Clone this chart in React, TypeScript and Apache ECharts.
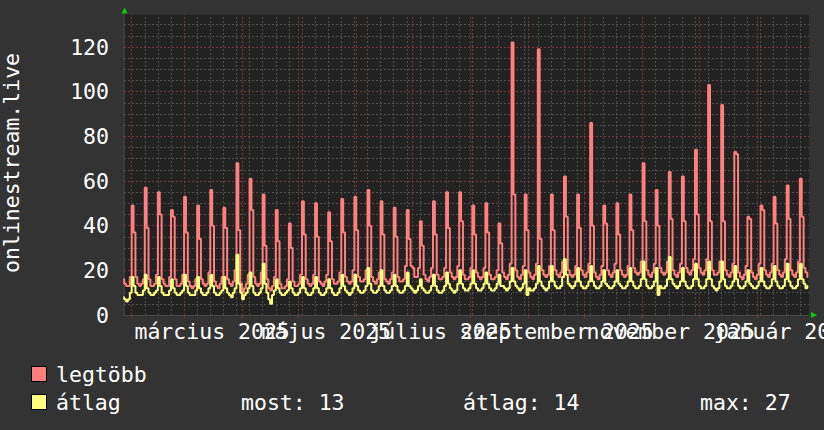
import React, { useEffect, useRef } from "react";
import * as echarts from "echarts";

// ---------- data (daily samples, first sample = 2025-01-27) ----------
const FIRST_SAMPLE = "2025-01-27";

const legtobb = [
  16, 14, 13, 13, 17, 49, 37,
  17, 14, 13, 14, 16, 57, 39,
  16, 13, 13, 14, 18, 55, 45,
  16, 14, 13, 13, 17, 47, 44,
  16, 13, 13, 14, 18, 53, 37,
  15, 13, 12, 13, 16, 49, 34,
  16, 14, 13, 14, 19, 56, 40,
  15, 13, 12, 14, 17, 48, 39,
  16, 14, 13, 15, 20, 68, 38,
  14, 10, 12, 14, 18, 61, 47,
  17, 14, 13, 14, 19, 54, 31,
  16, 12, 11, 13, 17, 47, 33,
  14, 12, 12, 13, 16, 41, 30,
  15, 13, 13, 14, 18, 51, 36,
  16, 14, 13, 14, 18, 50, 35,
  15, 14, 13, 15, 18, 46, 33,
  16, 14, 14, 15, 19, 52, 37,
  17, 15, 14, 15, 20, 53, 38,
  17, 15, 15, 16, 20, 56, 40,
  17, 15, 14, 16, 19, 51, 36,
  16, 15, 14, 16, 19, 48, 35,
  17, 15, 15, 16, 22, 47, 34,
  22, 21, 17, 17, 21, 42, 31,
  18, 16, 15, 17, 21, 51, 36,
  18, 16, 16, 17, 21, 55, 39,
  19, 17, 16, 17, 22, 55, 42,
  18, 16, 16, 17, 21, 49, 36,
  19, 17, 16, 17, 21, 50, 37,
  18, 16, 16, 17, 20, 41, 32,
  19, 17, 16, 18, 23, 122, 54,
  20, 17, 16, 18, 22, 54, 38,
  19, 17, 16, 18, 23, 119, 34,
  20, 18, 17, 18, 22, 54, 38,
  20, 18, 17, 19, 24, 62, 44,
  20, 18, 17, 18, 22, 54, 39,
  20, 18, 17, 19, 23, 86, 40,
  19, 17, 16, 18, 22, 49, 41,
  20, 18, 17, 19, 23, 50, 36,
  20, 18, 17, 18, 22, 54, 38,
  21, 19, 18, 19, 24, 68, 42,
  20, 18, 17, 19, 23, 56, 40,
  21, 19, 18, 19, 24, 64, 43,
  20, 18, 17, 19, 23, 62, 42,
  21, 19, 18, 20, 25, 74, 45,
  21, 19, 18, 20, 25, 103, 42,
  20, 18, 18, 19, 24, 94, 42,
  20, 18, 17, 19, 23, 73, 72,
  19, 17, 16, 18, 22, 44, 43,
  19, 17, 16, 18, 23, 49, 47,
  20, 18, 17, 19, 23, 53, 41,
  20, 18, 17, 19, 25, 58, 43,
  20, 18, 17, 19, 24, 61, 44,
  21, 19, 17,
];

const atlag = [
  8, 7, 6, 7, 10, 17, 13,
  10, 9, 9, 9, 11, 18, 12,
  10, 9, 9, 10, 11, 17, 13,
  10, 9, 9, 9, 11, 16, 12,
  10, 9, 9, 10, 11, 18, 13,
  10, 9, 9, 9, 11, 17, 12,
  10, 9, 9, 10, 12, 18, 13,
  10, 9, 9, 10, 11, 17, 12,
  10, 9, 8, 10, 12, 27, 14,
  10, 7, 9, 10, 12, 19, 13,
  10, 9, 9, 10, 12, 23, 14,
  10, 7, 5, 9, 11, 16, 12,
  10, 9, 9, 10, 11, 15, 12,
  10, 9, 9, 10, 12, 17, 12,
  10, 9, 9, 10, 12, 17, 12,
  10, 9, 9, 10, 12, 16, 12,
  10, 9, 9, 10, 12, 18, 13,
  11, 10, 9, 10, 12, 18, 13,
  11, 10, 10, 11, 13, 21, 14,
  11, 10, 10, 11, 13, 20, 13,
  11, 10, 10, 11, 13, 18, 13,
  11, 10, 10, 11, 13, 19, 13,
  12, 11, 10, 11, 13, 16, 12,
  11, 10, 10, 11, 13, 18, 13,
  11, 10, 10, 11, 13, 19, 14,
  12, 11, 10, 11, 14, 20, 14,
  12, 11, 11, 12, 14, 20, 14,
  12, 11, 11, 12, 14, 19, 14,
  12, 11, 11, 12, 14, 18, 13,
  13, 12, 11, 12, 15, 21, 15,
  13, 12, 11, 12, 14, 20, 9,
  12, 11, 11, 12, 14, 22, 15,
  13, 12, 11, 12, 15, 22, 15,
  13, 12, 12, 13, 17, 25, 18,
  14, 13, 12, 13, 15, 21, 15,
  13, 12, 12, 13, 15, 22, 15,
  13, 12, 12, 13, 15, 20, 14,
  13, 12, 12, 13, 15, 20, 14,
  13, 12, 12, 13, 15, 21, 15,
  13, 12, 12, 13, 16, 24, 16,
  13, 12, 12, 13, 15, 21, 9,
  13, 12, 12, 13, 16, 26, 16,
  14, 13, 12, 13, 15, 21, 15,
  13, 12, 12, 13, 16, 23, 16,
  13, 12, 12, 13, 16, 24, 16,
  13, 12, 11, 12, 15, 24, 16,
  13, 12, 12, 13, 15, 22, 16,
  13, 12, 12, 13, 15, 20, 14,
  13, 12, 12, 13, 15, 21, 15,
  13, 12, 12, 13, 16, 22, 15,
  13, 12, 12, 13, 16, 23, 15,
  13, 12, 12, 13, 16, 23, 16,
  14, 12, 13,
];

const seriesNames = ["legtöbb", "átlag"];
const axisTitle = "onlinestream.live";

const monthStarts = [
  "2025-02-01", "2025-03-01", "2025-04-01", "2025-05-01", "2025-06-01", "2025-07-01",
  "2025-08-01", "2025-09-01", "2025-10-01", "2025-11-01", "2025-12-01", "2026-01-01",
];
const xLabelDates = ["2025-03-16", "2025-05-16", "2025-07-16", "2025-09-16", "2025-11-16", "2026-01-16"];
const xLabels = ["március 2025", "május 2025", "július 2025", "szeptember 2025", "november 2025", "január 2026"];

const yMax = 134.5;
const yMajor = 20;
const yMinor = 5;

const statNow = "most: 13";
const statAvg = "átlag: 14";
const statMax = "max: 27";

// ---------- styling ----------
const FONT = '"DejaVu Sans Mono", monospace';
const FS = 21.5;
const PINK = "#ff7f7f";
const YELLOW = "#ffff7f";
const GREY = "#4e4e4e";
const RED = "#7a3434";
const DAY = 86400000;

function ts(s: string, hour = 0, minute = 0): number {
  const [y, m, d] = s.split("-").map(Number);
  return new Date(y, m - 1, d, hour, minute).getTime();
}

export default function App() {
  const ref = useRef<HTMLDivElement>(null);

  useEffect(() => {
    if (!ref.current) return;
    const chart = echarts.init(ref.current, undefined, { renderer: "svg" });

    const xMin = ts("2025-01-27", 21, 36);
    const xMax = xMin + 366 * DAY;
    const t0 = ts(FIRST_SAMPLE, 12);

    const monthTs = monthStarts.map((s) => ts(s));
    const labelTs = xLabelDates.map((s) => ts(s));

    const weekTs: number[] = [];
    for (let t = monthTs[0]; t <= xMax; t += 7 * DAY) if (t >= xMin) weekTs.push(t);

    const minorY: number[] = [];
    const majorY: number[] = [];
    for (let v = yMinor; v < yMax; v += yMinor) {
      if (v % yMajor === 0) majorY.push(v);
      else minorY.push(v);
    }

    const txt = { color: "#ffffff", fontSize: FS, fontFamily: FONT };
    const font = `${FS}px ${FONT}`;

    const baseGraphics: any[] = [
      {
        type: "text",
        x: 11,
        y: 163,
        rotation: Math.PI / 2,
        style: { text: axisTitle, fill: "#ffffff", font, align: "center", verticalAlign: "middle" },
      },
      {
        type: "polygon",
        shape: { points: [[121.5, 13.5], [127.5, 13.5], [124.5, 7.5]] },
        style: { fill: "#00d000" },
      },
      {
        type: "polygon",
        shape: { points: [[811, 312], [811, 318], [817, 315]] },
        style: { fill: "#00d000" },
      },
      {
        type: "rect",
        shape: { x: 31.5, y: 366.5, width: 15, height: 15 },
        style: { fill: PINK, stroke: "#000000", lineWidth: 1 },
      },
      {
        type: "text",
        x: 56,
        y: 374,
        style: { text: seriesNames[0], fill: "#ffffff", font, verticalAlign: "middle" },
      },
      {
        type: "rect",
        shape: { x: 31.5, y: 394.5, width: 15, height: 15 },
        style: { fill: YELLOW, stroke: "#000000", lineWidth: 1 },
      },
      {
        type: "text",
        x: 56,
        y: 402,
        style: { text: seriesNames[1], fill: "#ffffff", font, verticalAlign: "middle" },
      },
      { type: "text", x: 241, y: 402, style: { text: statNow, fill: "#ffffff", font, verticalAlign: "middle" } },
      { type: "text", x: 463, y: 402, style: { text: statAvg, fill: "#ffffff", font, verticalAlign: "middle" } },
      { type: "text", x: 700, y: 402, style: { text: statMax, fill: "#ffffff", font, verticalAlign: "middle" } },
    ];

    const markLineBase = {
      silent: true,
      symbol: ["none", "none"],
      label: { show: false },
      emphasis: { disabled: true },
      animation: false,
    };

    chart.setOption({
      animation: false,
      backgroundColor: "#333333",
      textStyle: { fontFamily: FONT },
      grid: {
        left: 124,
        right: 15,
        top: 14.7,
        bottom: 115,
        show: true,
        backgroundColor: "#222222",
        borderWidth: 0,
      },
      xAxis: {
        type: "value",
        min: xMin,
        max: xMax,
        scale: true,
        splitLine: { show: false },
        axisLine: { show: true, lineStyle: { color: "#4a4a4a", width: 1 } },
        axisTick: {
          show: true,
          customValues: monthTs,
          length: 3,
          lineStyle: { color: RED, width: 1 },
        },
        axisLabel: { show: false },
      },
      yAxis: {
        type: "value",
        min: 0,
        max: yMax,
        interval: yMajor,
        splitLine: { show: false },
        axisLine: { show: true, lineStyle: { color: "#3c3c3c", width: 2 } },
        axisTick: { show: false },
        axisLabel: {
          ...txt,
          margin: 15,
          showMaxLabel: false,
          formatter: (v: number) => (v % yMajor === 0 ? String(v) : ""),
        },
      },
      series: [
        {
          type: "line",
          data: [],
          silent: true,
          z: 1,
          markLine: {
            ...markLineBase,
            z: 1,
            lineStyle: { color: GREY, type: [2, 2], width: 1 },
            data: [...minorY.map((v) => ({ yAxis: v })), ...weekTs.map((t) => ({ xAxis: t }))],
          },
        },
        {
          type: "line",
          data: [],
          silent: true,
          z: 1,
          markLine: {
            ...markLineBase,
            z: 2,
            lineStyle: { color: RED, type: [2, 2], width: 1 },
            data: [...majorY.map((v) => ({ yAxis: v })), ...monthTs.map((t) => ({ xAxis: t }))],
          },
        },
        {
          name: seriesNames[0],
          type: "line",
          step: "middle",
          symbol: "none",
          showSymbol: false,
          silent: true,
          z: 3,
          data: legtobb.map((v, i) => [t0 + i * DAY, v]),
          lineStyle: { color: PINK, width: 2 },
          itemStyle: { color: PINK },
        },
        {
          name: seriesNames[1],
          type: "line",
          step: "middle",
          symbol: "none",
          showSymbol: false,
          silent: true,
          z: 4,
          data: atlag.map((v, i) => [t0 + i * DAY, v]),
          lineStyle: { color: YELLOW, width: 2 },
          itemStyle: { color: YELLOW },
        },
      ],
      graphic: baseGraphics,
    });

    // month labels centred on mid-month, positioned through the x axis scale
    const yBase = chart.convertToPixel({ yAxisIndex: 0 }, 0) as number;
    const labelGraphics = labelTs.map((t, i) => ({
      type: "text",
      x: chart.convertToPixel({ xAxisIndex: 0 }, t) as number,
      y: yBase + 5,
      style: { text: xLabels[i], fill: "#ffffff", font, align: "center", verticalAlign: "top" },
    }));
    chart.setOption({ graphic: [...baseGraphics, ...labelGraphics] });

    return () => chart.dispose();
  }, []);

  return <div ref={ref} style={{ position: "fixed", left: 0, top: 0, width: 824, height: 430 }} />;
}
